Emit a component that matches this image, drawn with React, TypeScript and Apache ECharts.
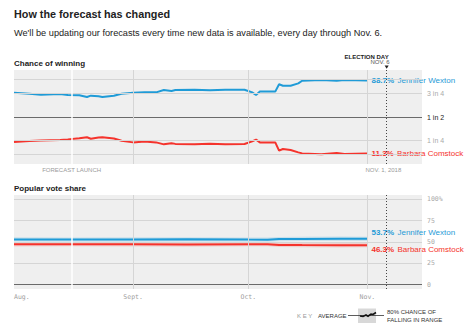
import React, { useEffect, useRef } from "react";
import * as echarts from "echarts";

const SANS = "'Liberation Sans', Arial, sans-serif";
const MONO = "'DejaVu Sans Mono', monospace";
const BLUE = "#1f9bd7";
const RED = "#f5332c";

// x axis: days since Aug. 1, 2018
const xMax = 106.2;
const launchDay = 15;
const electionDay = 97;
const monthStarts = [31, 61, 92];
const monthLabelDays = [0, 31, 61, 92];
const monthLabels = ["Aug.", "Sept.", "Oct.", "Nov."];

const chanceTicks = [25, 50, 75];
const chanceTickLabels = ["1 in 4", "1 in 2", "3 in 4"];
const chanceGrid = [10, 25, 75, 90];
const shareTicks = [0, 25, 50, 75, 100];
const shareGrid = [25, 50, 75, 100];

// Chance of winning
const winDays = [0, 4, 7, 12, 14, 17, 19, 20, 22, 23, 26, 28, 31, 34, 37, 39, 41, 42, 47, 51, 55, 60, 62, 63, 64, 68, 69, 70, 72, 74, 75, 80, 84, 86, 92];
const wextonWin = [75.9, 74.8, 73.7, 74.5, 73.4, 73.2, 71.3, 72.7, 72.0, 71.3, 72.7, 74.8, 75.9, 76.3, 76.2, 78.7, 77.7, 78.7, 79.0, 78.4, 79.0, 79.0, 76.2, 73.4, 77.0, 77.0, 84.8, 83.3, 83.3, 85.8, 88.6, 89.4, 88.6, 89.4, 88.7];
const comstockWin = [23.4, 24.5, 25.0, 25.5, 26.2, 27.3, 28.4, 26.9, 28.2, 28.4, 27.2, 24.8, 23.0, 24.0, 23.0, 20.9, 22.0, 21.4, 20.9, 21.6, 21.0, 21.3, 24.1, 25.9, 23.0, 23.0, 14.2, 16.0, 14.9, 12.4, 11.3, 10.3, 11.7, 10.6, 11.3];

// Popular vote share
const voteDays = [0, 15, 31, 45, 61, 66, 69, 75, 85, 92];
const wextonVote = [53.0, 52.9, 53.0, 53.2, 52.8, 52.7, 53.4, 53.6, 53.8, 53.7];
const comstockVote = [47.3, 47.4, 47.3, 47.0, 47.4, 47.5, 46.6, 46.4, 46.2, 46.3];
const wextonLow = [50.5, 50.4, 50.4, 50.7, 50.3, 50.2, 50.9, 51.1, 51.3, 51.2];
const wextonHigh = [55.5, 55.4, 55.6, 55.7, 55.3, 55.2, 55.9, 56.1, 56.3, 56.2];
const comstockLow = [44.8, 44.9, 44.8, 44.5, 44.9, 45.0, 44.1, 43.9, 43.7, 43.8];
const comstockHigh = [49.8, 49.9, 49.8, 49.5, 49.9, 50.0, 49.1, 48.9, 48.7, 48.8];

const last = (a: number[]) => a[a.length - 1];

function bandSeries(days: number[], lo: number[], hi: number[], color: string) {
  return {
    type: "custom",
    xAxisIndex: 1,
    yAxisIndex: 1,
    z: 2,
    silent: true,
    data: days.map((d, i) => [d, lo[i], hi[i]]),
    encode: { x: 0, y: [1, 2] },
    renderItem: (params: any, api: any) => {
      if (params.dataIndex !== 0) return null;
      const top = days.map((d, i) => api.coord([d, hi[i]]));
      const bot = days.map((d, i) => api.coord([d, lo[i]])).reverse();
      return { type: "polygon", shape: { points: top.concat(bot) }, style: { fill: color } };
    },
  };
}

function lineSeries(axis: number, days: number[], vals: number[], color: string, name: string, offset: number[]) {
  const pct = last(vals).toFixed(1) + "%";
  return {
    type: "line",
    xAxisIndex: axis,
    yAxisIndex: axis,
    z: 4,
    color,
    data: days.map((d, i) => [d, vals[i]]),
    symbol: "none",
    showSymbol: false,
    silent: true,
    itemStyle: { color },
    lineStyle: { color, width: 2, opacity: 1 },
    emphasis: { disabled: true },
    endLabel: {
      show: true,
      distance: 4,
      offset,
      formatter: () => `{p|${pct}} {n|${name}}`,
      rich: {
        p: { fontWeight: "bold", color, fontSize: 8, fontFamily: SANS },
        n: { color, fontSize: 8, fontFamily: SANS },
      },
    },
  };
}

const lightLine = { color: "#d5d5d5", width: 1, type: "solid" };
const darkLine = { color: "#6a6a6a", width: 1, type: "solid" };
const whiteLine = { color: "#ffffff", width: 1.5, type: "solid" };
const dotLine = { color: "#444", width: 1, type: [1, 2] };
const smallGray = { color: "#9a9a9a", fontSize: 6, fontFamily: SANS };

export default function App() {
  const ref = useRef<HTMLDivElement>(null);
  useEffect(() => {
    if (!ref.current) return;
    const chart = echarts.init(ref.current, null, { renderer: "svg" });
    const option: any = {
      animation: false,
      grid: [
        { left: 14, top: 70, width: 408, height: 94, show: true, backgroundColor: "#efefef", borderWidth: 0 },
        { left: 14, top: 195, width: 408, height: 94, show: true, backgroundColor: "#efefef", borderWidth: 0 },
      ],
      xAxis: [
        { gridIndex: 0, type: "value", min: 0, max: xMax, axisLine: { show: false }, axisTick: { show: false }, axisLabel: { show: false }, splitLine: { show: false } },
        {
          gridIndex: 1, type: "value", min: 0, max: xMax, axisLine: { show: false }, axisTick: { show: false }, splitLine: { show: false },
          axisLabel: {
            customValues: monthLabelDays,
            formatter: (v: number) => monthLabels[monthLabelDays.indexOf(v)] ?? "",
            fontFamily: MONO, fontSize: 6.5, color: "#a0a0a0", margin: 4, alignMinLabel: "left",
          },
        },
      ],
      yAxis: [
        {
          gridIndex: 0, type: "value", min: 0, max: 100, interval: 25, position: "right",
          axisLine: { show: false }, axisTick: { show: false }, splitLine: { show: false },
          axisLabel: {
            margin: 5,
            formatter: (v: number) => {
              const i = chanceTicks.indexOf(v);
              if (i < 0) return "";
              return v === 50 ? `{d|${chanceTickLabels[i]}}` : `{l|${chanceTickLabels[i]}}`;
            },
            rich: {
              d: { color: "#222", fontSize: 7, fontFamily: SANS },
              l: { color: "#aaa", fontSize: 7, fontFamily: SANS },
            },
          },
        },
        {
          gridIndex: 1, type: "value", min: -5, max: 105, position: "right",
          axisLine: { show: false }, axisTick: { show: false }, splitLine: { show: false },
          axisLabel: {
            customValues: shareTicks,
            formatter: (v: number) => (v === 100 ? "100%" : String(v)),
            fontFamily: MONO, fontSize: 6.5, color: "#aaa", margin: 5,
          },
        },
      ],
      series: [
        {
          type: "line", xAxisIndex: 0, yAxisIndex: 0, data: [], z: 1, silent: true,
          markLine: {
            symbol: "none", silent: true, animation: false, label: { show: false },
            data: [
              ...chanceGrid.map((v) => ({ yAxis: v, lineStyle: lightLine })),
              { yAxis: 50, lineStyle: darkLine },
              ...monthStarts.map((d) => ({
                xAxis: d, lineStyle: lightLine,
                label: d === 92 ? { show: true, position: "start", formatter: "NOV. 1, 2018", distance: 3, align: "left", offset: [-2, 0], ...smallGray } : { show: false },
              })),
              { xAxis: electionDay, lineStyle: dotLine },
              { xAxis: launchDay, lineStyle: whiteLine, label: { show: true, position: "start", formatter: "FORECAST LAUNCH", distance: 3, ...smallGray } },
            ],
          },
        },
        {
          type: "line", xAxisIndex: 1, yAxisIndex: 1, data: [], z: 1, silent: true,
          markLine: {
            symbol: "none", silent: true, animation: false, label: { show: false },
            data: [
              ...shareGrid.map((v) => ({ yAxis: v, lineStyle: lightLine })),
              { yAxis: 0, lineStyle: darkLine },
              ...monthStarts.map((d) => ({ xAxis: d, lineStyle: lightLine })),
              { xAxis: electionDay, lineStyle: dotLine },
              { xAxis: launchDay, lineStyle: whiteLine },
            ],
          },
        },
        bandSeries(voteDays, wextonLow, wextonHigh, "rgba(31,155,215,0.18)"),
        bandSeries(voteDays, comstockLow, comstockHigh, "rgba(245,51,44,0.16)"),
        lineSeries(0, winDays, wextonWin, BLUE, "Jennifer Wexton", [0, 0]),
        lineSeries(0, winDays, comstockWin, RED, "Barbara Comstock", [0, 0]),
        lineSeries(1, voteDays, wextonVote, BLUE, "Jennifer Wexton", [0, -6]),
        lineSeries(1, voteDays, comstockVote, RED, "Barbara Comstock", [0, 4]),
      ],
    };
    chart.setOption(option);

    const ep = chart.convertToPixel({ gridIndex: 0 } as any, [electionDay, 100]) as number[];
    const ex = ep[0];
    const ey = ep[1];
    chart.setOption({
      graphic: [
        { type: "text", x: 14, y: 14, style: { text: "How the forecast has changed", font: `bold 10.8px ${SANS}`, fill: "#222", verticalAlign: "middle" } },
        { type: "text", x: 14, y: 33, style: { text: "We'll be updating our forecasts every time new data is available, every day through Nov. 6.", font: `9.2px ${SANS}`, fill: "#222", verticalAlign: "middle" } },
        { type: "text", x: 14, y: 63, style: { text: "Chance of winning", font: `bold 8px ${SANS}`, fill: "#222", verticalAlign: "middle" } },
        { type: "text", x: 14, y: 188, style: { text: "Popular vote share", font: `bold 8px ${SANS}`, fill: "#222", verticalAlign: "middle" } },
        { type: "text", x: ex + 2, y: ey - 13.5, style: { text: "ELECTION DAY", font: `bold 6px ${SANS}`, fill: "#222", align: "right", verticalAlign: "middle" } },
        { type: "text", x: ex + 3, y: ey - 8, style: { text: "NOV. 6", font: `6px ${SANS}`, fill: "#555", align: "right", verticalAlign: "middle" } },
        { type: "polygon", shape: { points: [[ex - 2, ey - 4.5], [ex + 2, ey - 4.5], [ex, ey - 1.2]] }, style: { fill: "#222" } },
        // key
        { type: "text", x: 297, y: 315.5, style: { text: "K E Y", font: `6px ${SANS}`, fill: "#999", verticalAlign: "middle" } },
        { type: "text", x: 318, y: 315.5, style: { text: "AVERAGE", font: `6px ${SANS}`, fill: "#333", verticalAlign: "middle" } },
        { type: "rect", shape: { x: 358, y: 308.5, width: 18, height: 14.5 }, style: { fill: "#d8d8d8" } },
        { type: "line", shape: { x1: 348, y1: 315.5, x2: 384, y2: 315.5 }, style: { stroke: "#333", lineWidth: 0.8 } },
        { type: "polyline", shape: { points: [[360, 316], [363, 316.5], [366, 315], [368, 316.2], [371, 314], [373, 314.5], [376, 312.5]] }, style: { stroke: "#111", lineWidth: 1.6, fill: "none" } },
        { type: "text", x: 387, y: 311.5, style: { text: "80% CHANCE OF", font: `6px ${SANS}`, fill: "#333", verticalAlign: "middle" } },
        { type: "text", x: 387, y: 319.5, style: { text: "FALLING IN RANGE", font: `6px ${SANS}`, fill: "#333", verticalAlign: "middle" } },
      ],
    });
    return () => chart.dispose();
  }, []);
  return <div ref={ref} style={{ position: "absolute", left: 0, top: 0, width: 475, height: 331 }} />;
}
